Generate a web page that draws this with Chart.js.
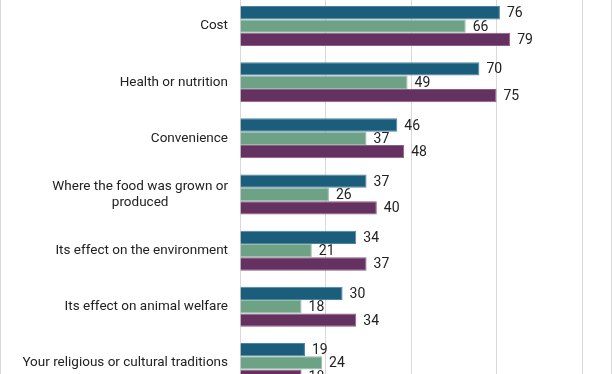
<!DOCTYPE html>
<html>
<head>
<meta charset="utf-8">
<script src="https://cdn.jsdelivr.net/npm/chart.js@4.4.1/dist/chart.umd.min.js"></script>
<style>
    html, body { margin: 0; padding: 0; background: #fff; overflow: hidden; }
    #frame { position: absolute; left: 0; top: 0; width: 610px; height: 374px; border-left: 1px solid #d9d9d9; border-right: 1px solid #d9d9d9; }
    #wrap { position: absolute; left: 0; top: -2px; width: 612px; height: 393px; }
</style>
</head>
<body>
<div id="frame"></div>
<div id="wrap"><canvas id="myChart"></canvas></div>
<script>
    const categories = [
        'Cost',
        'Health or nutrition',
        'Convenience',
        ['Where the food was grown or', 'produced'],
        'Its effect on the environment',
        'Its effect on animal welfare',
        'Your religious or cultural traditions'
    ];
    const series_1 = [76, 70, 46, 37, 34, 30, 19];
    const series_2 = [66, 49, 37, 26, 21, 18, 24];
    const series_3 = [79, 75, 48, 40, 37, 34, 18];
    const x_ticks = [0, 25, 50, 75, 100];

    // category labels: right aligned, lines of a wrapped label centred on each other
    const categoryLabels = {
        id: 'categoryLabels',
        afterDraw(chart) {
            const ctx = chart.ctx;
            const yScale = chart.scales.y;
            ctx.save();
            ctx.font = '13.5px Roboto';
            ctx.fillStyle = '#222';
            ctx.textBaseline = 'middle';
            ctx.textAlign = 'center';
            categories.forEach(function (lab, i) {
                const lines = Array.isArray(lab) ? lab : [lab];
                const y = yScale.getPixelForValue(i);
                const maxW = Math.max.apply(null, lines.map(l => ctx.measureText(l).width));
                const right = yScale.right - 12;
                lines.forEach(function (l, j) {
                    ctx.fillText(l, right - maxW / 2, y + (j - (lines.length - 1) / 2) * 16.5);
                });
            });
            ctx.restore();
        }
    };

    const valueLabels = {
        id: 'valueLabels',
        afterDatasetsDraw(chart) {
            const ctx = chart.ctx;
            ctx.save();
            ctx.font = '14px Roboto';
            ctx.fillStyle = '#222';
            ctx.textBaseline = 'middle';
            ctx.textAlign = 'left';
            chart.data.datasets.forEach(function (ds, di) {
                const meta = chart.getDatasetMeta(di);
                meta.data.forEach(function (bar, i) {
                    ctx.fillText(ds.data[i], bar.x + 7, bar.y + 1);
                });
            });
            ctx.restore();
        }
    };

    const ctx = document.getElementById('myChart').getContext('2d');

    const myChart = new Chart(ctx, {
        type: 'bar',
        data: {
            labels: categories,
            datasets: [
                {
                    label: 'Series 1',
                    data: series_1,
                    backgroundColor: '#1a5e7c',
                    borderColor: '#4f84a0',
                    borderWidth: 1
                },
                {
                    label: 'Series 2',
                    data: series_2,
                    backgroundColor: '#6ea287',
                    borderColor: '#98bca8',
                    borderWidth: 1
                },
                {
                    label: 'Series 3',
                    data: series_3,
                    backgroundColor: '#653160',
                    borderColor: '#8a5e85',
                    borderWidth: 1
                }
            ]
        },
        options: {
            indexAxis: 'y',
            responsive: true,
            maintainAspectRatio: false,
            animation: false,
            categoryPercentage: 0.713,
            barPercentage: 1,
            layout: { padding: { left: 0, right: 30, top: 0, bottom: 0 } },
            plugins: {
                legend: { display: false },
                tooltip: { enabled: false }
            },
            scales: {
                x: {
                    min: 0,
                    max: 100,
                    afterBuildTicks: function (scale) {
                        scale.ticks = x_ticks.map(v => ({ value: v }));
                    },
                    ticks: { display: false },
                    grid: { color: '#d9d9d9', drawTicks: false },
                    border: { display: false }
                },
                y: {
                    ticks: { display: false },
                    grid: { display: false },
                    border: { display: false },
                    afterFit: function (scale) {
                        scale.width = 240;
                    }
                }
            }
        },
        plugins: [categoryLabels, valueLabels]
    });
</script>
</body>
</html>
